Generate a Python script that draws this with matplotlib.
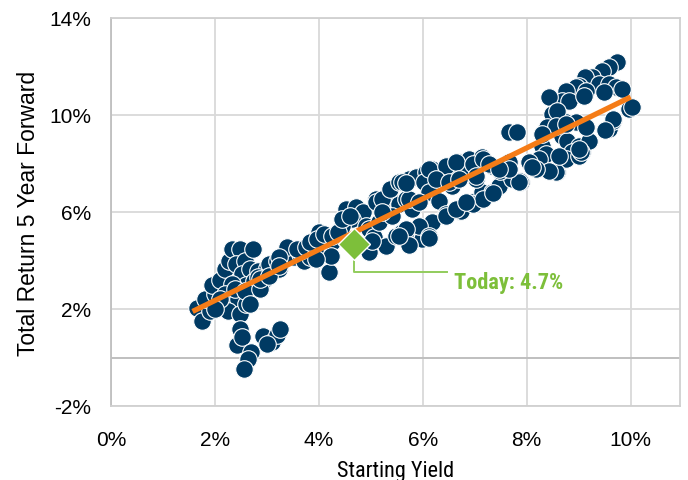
import matplotlib
matplotlib.use("Agg")
import matplotlib.pyplot as plt
from matplotlib.ticker import FuncFormatter
from matplotlib import font_manager

# ---- data (percent) ----
start_yield = [
    1.65, 1.75, 1.9, 1.8, 2.0, 1.94, 2.1, 2.2, 2.28, 2.32, 2.48, 2.4, 2.57, 2.53, 2.67, 2.6, 2.76, 2.82, 2.96, 3.0,
    2.32, 2.2, 2.28, 2.44, 2.25, 2.48, 2.6, 2.09, 2.0, 2.38, 2.57, 2.67,
    2.48, 2.42, 2.53, 2.7, 2.63, 2.55, 2.92, 3.09, 3.2, 3.26, 3.01,
    3.05, 3.2, 3.34, 3.44, 3.53, 3.63, 3.72, 3.82, 3.24, 2.86, 2.82, 3.38, 3.63, 3.24, 3.57, 3.76, 3.95, 4.07, 4.26,
    4.2, 4.24, 4.01, 4.07, 3.82, 3.97, 4.1, 2.73, 2.86, 3.05, 3.24, 3.95, 4.26,
    4.53, 4.72, 4.84, 4.63, 4.45, 4.36, 4.91, 4.97, 5.07, 4.97, 5.3, 5.49, 5.6, 5.8, 5.1, 5.36, 5.22, 5.55, 5.68, 5.8,
    5.16, 5.41, 4.45, 4.59, 5.1, 5.22, 5.36, 5.55, 5.74, 5.22, 5.03, 5.68, 5.93, 6.18, 5.99, 5.6, 5.87, 6.06, 6.18,
    6.03, 6.12, 5.74, 5.93, 5.93, 6.12, 5.68, 5.68, 6.12, 6.12, 5.74, 5.55,
    6.31, 6.45, 6.7, 6.95, 7.14, 7.33, 7.47, 7.72, 7.89, 6.51, 6.7, 6.89, 7.14, 7.33, 6.83, 7.02, 6.56, 6.37, 7.66,
    6.45, 6.64, 6.97, 7.16, 7.49, 7.87, 8.2, 8.58, 6.45, 6.74, 6.97, 7.16, 7.35, 6.64, 6.83, 6.26, 6.51, 6.7, 7.02,
    7.27, 7.66, 7.81,
    8.37, 8.49, 8.52, 8.75, 8.94, 8.68, 8.77, 9.0, 9.06, 9.19, 8.87, 8.75, 9.0, 9.58, 9.67, 9.96, 8.29, 8.37, 8.23,
    8.56, 8.43, 8.18, 7.85, 7.66, 7.47, 8.04, 8.1,
    9.73, 9.58, 9.44, 9.25, 9.13, 9.0, 8.94, 9.39, 9.58, 9.71, 9.83, 9.15, 8.75, 8.68, 8.43, 8.81, 9.1, 9.48, 10.02,
    8.49, 8.58, 8.39, 8.56, 8.75, 9.15, 9.67, 8.29, 9.04, 9.5, 9.0, 8.62,
]
fwd_return = [
    2.04, 1.5, 1.9, 2.4, 2.6, 3.0, 3.2, 3.65, 4.0, 4.47, 4.47, 3.85, 4.0, 3.45, 3.65, 3.0, 3.15, 3.55, 3.24, 3.7,
    3.03, 2.6, 2.2, 2.4, 1.9, 1.8, 2.2, 2.41, 2.0, 2.82, 2.75, 2.2,
    1.18, 0.5, 0.85, 0.22, -0.06, -0.47, 0.88, 0.64, 0.92, 1.18, 0.55,
    3.85, 4.0, 4.27, 4.47, 4.15, 4.27, 4.0, 4.15, 3.65, 2.82, 3.3, 4.55, 4.4, 4.15, 4.47, 4.55, 4.27, 4.89, 4.75,
    3.53, 4.19, 5.17, 4.96, 4.75, 4.89, 5.1, 4.47, 3.24, 3.36, 3.77, 4.06, 5.01,
    6.12, 6.2, 6.0, 5.71, 5.42, 5.17, 5.42, 5.3, 4.96, 4.34, 4.6, 5.0, 5.17, 4.89, 6.54, 6.6, 6.4, 6.33, 6.54, 6.12,
    5.58, 5.83, 5.71, 5.83, 6.41, 6.54, 6.95, 7.23, 7.36, 6.0, 4.8, 5.17, 5.38, 5.58, 4.89, 7.23, 7.44, 7.65, 7.77,
    7.23, 6.82, 6.54, 6.41, 5.42, 5.0, 5.3, 7.2, 7.77, 4.93, 4.64, 5.0,
    6.45, 5.91, 6.04, 6.41, 6.82, 6.82, 7.07, 7.36, 7.23, 7.9, 8.06, 8.19, 8.27, 7.9, 7.65, 7.36, 7.07, 7.36, 8.06,
    7.9, 8.06, 7.98, 8.19, 7.69, 7.28, 7.77, 7.65, 5.83, 6.04, 6.33, 6.54, 6.78, 6.12, 6.41, 7.36, 7.23, 7.36, 7.48,
    7.98, 9.3, 9.3,
    9.42, 9.71, 10.04, 9.71, 9.71, 9.14, 8.93, 8.72, 8.47, 8.93, 8.47, 8.19, 8.31, 9.42, 9.75, 10.25, 8.72, 8.39, 8.19,
    7.65, 7.69, 7.77, 7.23, 7.77, 7.77, 8.06, 7.85,
    12.19, 11.98, 11.81, 11.57, 11.57, 11.2, 11.15, 11.28, 11.28, 11.15, 11.07, 11.0, 11.0, 10.58, 10.75, 10.58, 10.79, 10.95, 10.33,
    10.04, 10.16, 9.5, 9.54, 9.63, 9.5, 9.84, 9.22, 8.47, 9.4, 8.6, 8.31,
]
trend_x = [1.57, 10.0]
trend_y = [1.9, 10.74]
today_yield = 4.68
today_return = 4.7
today_label = "Today: 4.7%"

x_ticks = [0, 2, 4, 6, 8, 10]
y_ticks = [-2, 2, 6, 10, 14]

NAVY = "#003a63"
ORANGE = "#f57c17"
GREEN = "#7dbf3a"

installed = {f.name for f in font_manager.fontManager.ttflist}
narrow_candidates = ["Liberation Sans Narrow", "Roboto Condensed", "Open Sans Condensed"]
narrow = next((n for n in narrow_candidates if n in installed), None)
if narrow is not None:
    label_family, label_size = [narrow, "DejaVu Sans"], 16
    xlab_family, xlab_size = [narrow, "DejaVu Sans"], 16
else:
    label_family, label_size = ["Liberation Sans", "DejaVu Sans"], 13.5
    xlab_family, xlab_size = ["Liberation Sans", "DejaVu Sans"], 14

fig = plt.figure(figsize=(6.88, 4.81), dpi=100)
ax = fig.add_axes([111/688, 1 - 407/481, (680-111)/688, (407-19)/481])

ax.set_xlim(0, 10.95)
ax.set_ylim(-2, 14)
ax.set_xticks(x_ticks)
ax.set_yticks(y_ticks)
fmt = FuncFormatter(lambda v, p: f"{v:.0f}%")
ax.xaxis.set_major_formatter(fmt)
ax.yaxis.set_major_formatter(fmt)
ax.grid(True, color="#d9d9d9", linewidth=1.3, zorder=0)
ax.set_axisbelow(True)
ax.axhline(0, color="#bfbfbf", linewidth=1.4, zorder=1)
for s in ax.spines.values():
    s.set_color("#d0d0d0")
    s.set_linewidth(1.3)
ax.spines["left"].set_color("#bfbfbf")
ax.tick_params(axis="y", length=0, labelsize=15, pad=14, colors="#000000")
ax.tick_params(axis="x", length=0, labelsize=15, pad=17, colors="#000000")
for lab in ax.get_xticklabels() + ax.get_yticklabels():
    lab.set_family("Liberation Sans")

ax.scatter(start_yield, fwd_return, s=160, c=NAVY, edgecolors="white", linewidths=0.8, zorder=3)
ax.plot(trend_x, trend_y, color=ORANGE, linewidth=3.8, solid_capstyle="butt", zorder=4)

# leader line + label
ax.plot([today_yield, today_yield, 6.47], [today_return, 3.53, 3.53], color="#92cc5c", linewidth=1.4, zorder=4)
ax.plot([today_yield], [today_return], marker="D", markersize=16, color=GREEN,
        markeredgecolor="white", markeredgewidth=1.0, zorder=5, linestyle="none")
ax.text(6.6, 3.11, today_label, color=GREEN, fontsize=label_size, fontweight="bold",
        family=label_family, va="center", ha="left", zorder=6)

ax.set_xlabel("Starting Yield", fontsize=xlab_size, family=xlab_family, labelpad=8)
ax.set_ylabel("Total Return 5 Year Forward", fontsize=16.5, family="Liberation Sans", labelpad=7)

fig.savefig("out.png", dpi=100)
